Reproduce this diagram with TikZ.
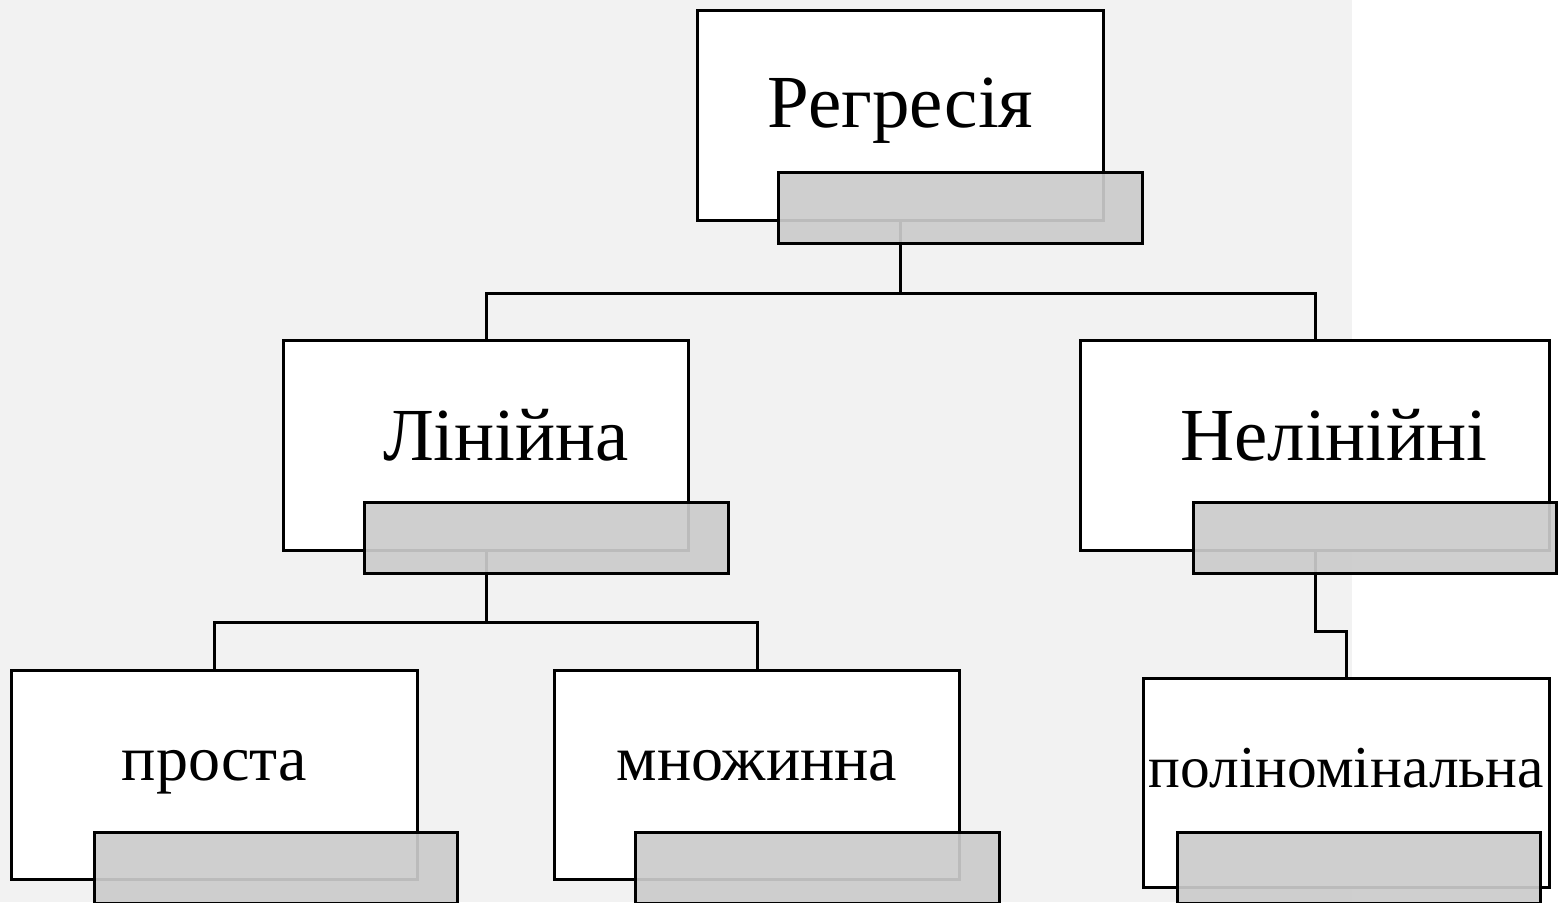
\documentclass[tikz,border=0pt]{standalone}
\usepackage{fontspec}
\setmainfont{Liberation Serif}
\usepackage{tikz}

\definecolor{bggrey}{RGB}{242,242,242}
\definecolor{shadegrey}{RGB}{203,203,203}

\begin{document}
\begin{tikzpicture}[x=0.01cm, y=-0.01cm,
  wbox/.style={draw=black, line width=0.03cm, fill=white, inner sep=0pt, text depth=0pt},
  gbox/.style={draw=black, line width=0.03cm, fill=shadegrey, fill opacity=0.92, draw opacity=1,
    minimum width=3.63cm, minimum height=0.70cm, inner sep=0pt},
  bigtxt/.style={font=\fontsize{21.3}{25}\selectfont},
  smalltxt/.style={font=\fontsize{18.2}{21}\selectfont},
  link/.style={draw=black, line width=0.03cm}]
\fill[white] (0,0) rectangle (1563,902);
\fill[bggrey] (0,0) rectangle (1352,902);
\useasboundingbox (0,0) rectangle (1563,902);

% white boxes
\node[wbox, bigtxt, minimum width=4.05cm, minimum height=2.09cm, text height=0.23cm] (root) at (900.5,115.5) {Регресія};
\node[wbox, bigtxt, minimum width=4.04cm, minimum height=2.09cm, text height=0.29cm] (lin) at (486,445.5) {\hspace*{0.4cm}Лінійна};
\node[wbox, bigtxt, minimum width=4.68cm, minimum height=2.09cm, text height=0.29cm] (nelin) at (1315,445.5) {\hspace*{0.38cm}Нелінійні};
\node[wbox, smalltxt, minimum width=4.05cm, minimum height=2.08cm, text height=0.10cm] (simple) at (214.5,775) {проста};
\node[wbox, smalltxt, minimum width=4.04cm, minimum height=2.08cm, text height=0.10cm] (multi) at (757,775) {множинна};
\node[wbox, smalltxt, font=\fontsize{16.9}{20}\selectfont, minimum width=4.05cm, minimum height=2.08cm, text height=0.08cm] (poly) at (1346.5,783) {поліномінальна};

% connectors
\draw[link] (root.south) -- ++(0,72) -| (lin.north);
\draw[link] (root.south) -- ++(0,72) -| (nelin.north);
\draw[link] (lin.south) -- ++(0,71) -| (simple.north);
\draw[link] (lin.south) -- ++(0,71) -| (multi.north);
\draw[link] (nelin.south) -- ++(0,80) -| (poly.north);

% shaded boxes
\node[gbox] (rootg) at (960.5,208) {};
\node[gbox] (ling) at (546.5,538) {};
\node[gbox] (nelineg) at (1375,538) {};
\node[gbox] (simpleg) at (276,868) {};
\node[gbox] (multig) at (817.5,868) {};
\node[gbox] (polyg) at (1359,868) {};
\end{tikzpicture}
\end{document}
